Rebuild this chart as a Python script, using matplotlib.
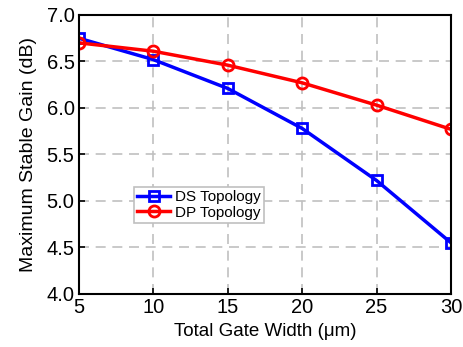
import numpy as np
import matplotlib
matplotlib.use("Agg")
import matplotlib.pyplot as plt

plt.rcParams['font.family'] = ['Liberation Sans', 'DejaVu Sans']

# data
gate_width = [5, 10, 15, 20, 25, 30]
ds_gain = [6.75, 6.52, 6.21, 5.78, 5.22, 4.55]
dp_gain = [6.70, 6.61, 6.46, 6.27, 6.03, 5.77]

fig = plt.figure(figsize=(4.63, 3.47), dpi=100)
ax = fig.add_axes([0.170, 0.153, 0.804, 0.804])

ax.plot(gate_width, ds_gain, color='blue', lw=2.5, marker='s', ms=7,
        mfc='none', mew=2, label='DS Topology', zorder=3)
ax.plot(gate_width, dp_gain, color='red', lw=2.5, marker='o', ms=8,
        mfc='none', mew=2, label='DP Topology', zorder=3)

ax.set_xlim(5, 30)
ax.set_ylim(4.0, 7.0)
ax.set_xticks(np.arange(5, 31, 5))
ax.set_yticks(np.arange(4.0, 7.01, 0.5))
ax.set_yticklabels(['%.1f' % v for v in np.arange(4.0, 7.01, 0.5)])
ax.grid(True, color='#c0c0c0', ls=(0, (6, 4)), lw=1.2)
ax.tick_params(direction='in', labelsize=14.5, length=4, width=1.2, pad=3)
for s in ax.spines.values():
    s.set_linewidth(1.5)
    s.set_zorder(4)

ax.set_xlabel('Total Gate Width (\u03bcm)', fontsize=13.5, labelpad=4)
ax.set_ylabel('Maximum Stable Gain (dB)', fontsize=14, labelpad=7)

leg = ax.legend(loc='lower left', bbox_to_anchor=(0.148, 0.255), fontsize=11,
                fancybox=False, edgecolor='#c0c0c0', framealpha=1,
                handlelength=2.2, borderpad=0.2, labelspacing=0.1,
                handletextpad=0.3, borderaxespad=0)
leg.get_frame().set_linewidth(1.2)

fig.savefig('out.png', dpi=100)
